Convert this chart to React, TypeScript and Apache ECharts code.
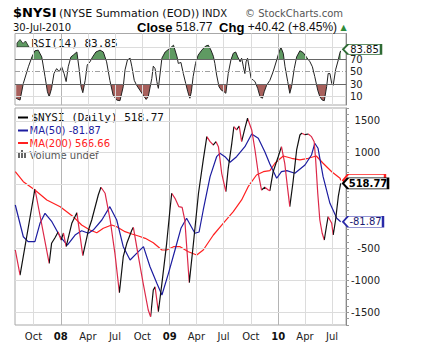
import React, { useEffect, useRef } from 'react';
import * as echarts from 'echarts';

// ---------- data ----------
const priceDates = [
  '2007-08-01','2007-08-17','2007-10-06','2007-11-23','2007-12-01','2007-12-12','2007-12-23','2008-01-02','2008-01-10','2008-01-19',
  '2008-02-07','2008-02-24','2008-03-15','2008-04-03','2008-04-14','2008-05-06','2008-05-15','2008-05-29','2008-06-15','2008-07-01',
  '2008-07-16','2008-07-29','2008-08-10','2008-08-27','2008-09-01','2008-09-18','2008-10-04','2008-10-21','2008-10-29','2008-11-07',
  '2008-11-13','2008-11-24','2008-12-06','2008-12-22','2009-01-02','2009-01-08','2009-01-19','2009-02-01','2009-02-12','2009-02-21',
  '2009-03-08','2009-03-22','2009-04-08','2009-04-24','2009-05-06','2009-05-17','2009-05-28','2009-06-06','2009-06-14','2009-06-25',
  '2009-07-09','2009-07-17','2009-07-29','2009-08-05','2009-08-14','2009-08-23','2009-08-31','2009-09-11','2009-09-20','2009-10-04',
  '2009-10-15','2009-10-26','2009-11-06','2009-11-17','2009-11-29','2009-12-04','2009-12-15','2010-01-01','2010-01-12','2010-01-23',
  '2010-02-01','2010-02-09','2010-02-20','2010-03-04','2010-03-15','2010-03-21','2010-04-01','2010-04-12','2010-04-23','2010-05-02',
  '2010-05-07','2010-05-14','2010-05-21','2010-05-29','2010-06-05','2010-06-13','2010-06-18','2010-06-30','2010-07-05','2010-07-13',
  '2010-07-22','2010-07-30',
];
const priceValues = [
  -525, -917, 431, -734, -420, -337, -243, -368, -259, -473,
  -107, 60, -614, -212, -55, 337, 458, 364, -55, -577,
  -1194, -630, -420, -212, -170, -630, -1047, -1465, -1570, -1152,
  -1100, -1492, -1047, -420, 102, 364, 285, 154, 144, -55,
  -1037, -420, 364, 886, 1251, 1172, 1121, 1172, 1094, 677,
  389, 755, 1147, 1407, 1356, 1418, 1172, 1382, 1539, 1356,
  1042, 677, 415, 458, 415, 405, 702, 937, 1094, 834,
  467, 154, 545, 1042, 1277, 1304, 1282, 1293, 1251, 1172,
  886, 364, -55, -263, -368, -133, -3, -107, -290, -55,
  310, 518.77,
];

const ma50Dates = [
  '2007-08-01','2007-08-28','2007-09-13','2007-10-06','2007-10-23','2007-11-09','2007-12-02','2007-12-30','2008-01-23','2008-02-18',
  '2008-03-11','2008-04-03','2008-04-19','2008-05-18','2008-06-14','2008-07-07','2008-07-29','2008-08-21','2008-09-12','2008-10-05',
  '2008-10-27','2008-11-19','2008-12-06','2008-12-28','2009-01-19','2009-02-08','2009-02-27','2009-03-27','2009-04-10','2009-04-24',
  '2009-05-17','2009-06-08','2009-06-19','2009-07-06','2009-07-23','2009-08-14','2009-09-11','2009-10-04','2009-10-26','2009-11-17',
  '2009-12-04','2009-12-27','2010-01-12','2010-01-30','2010-02-26','2010-04-01','2010-04-23','2010-05-04','2010-05-15','2010-06-01',
  '2010-06-24','2010-07-17','2010-07-30',
];
const ma50Values = [
  180, -317, -395, -395, -107, 50, -82, -317, -447, -290,
  -223, -263, -212, -55, 154, -55, -473, -682, -577, -473,
  -787, -1047, -1230, -890, -525, -185, -28, -263, -243, 102,
  624, 937, 990, 937, 850, 937, 1094, 1293, 1226, 1016,
  823, 599, 702, 718, 677, 807, 964, 1147, 1069, 624,
  207, -28, -81.87,
];

const ma200Dates = [
  '2007-08-01','2007-08-28','2007-10-06','2007-11-15','2007-12-30','2008-02-12','2008-03-11','2008-04-08','2008-05-01','2008-05-23',
  '2008-06-20','2008-07-07','2008-08-04','2008-08-27','2008-09-18','2008-10-11','2008-11-07','2008-12-06','2008-12-22','2009-01-14',
  '2009-02-05','2009-03-05','2009-04-02','2009-04-24','2009-05-28','2009-06-30','2009-08-03','2009-08-31','2009-09-22','2009-10-20',
  '2009-11-12','2009-12-04','2009-12-21','2010-01-18','2010-02-15','2010-03-15','2010-04-12','2010-05-09','2010-06-01','2010-06-30',
  '2010-07-28','2010-07-30',
];
const ma200Values = [
  702, 545, 415, 259, 154, -3, -133, -212, -254, -185,
  -133, -160, -238, -274, -306, -342, -411, -525, -525, -473,
  -473, -552, -603, -525, -290, -107, 75, 259, 467, 650,
  702, 718, 834, 948, 912, 886, 912, 948, 834, 702,
  599, 566.66,
];

const rsiDates = [
  '2007-08-04','2007-08-17','2007-08-28','2007-09-14','2007-09-26','2007-10-06','2007-10-17','2007-10-29','2007-11-09','2007-11-17',
  '2007-11-23','2007-12-01','2007-12-09','2007-12-18','2007-12-27','2008-01-04','2008-01-12','2008-01-19','2008-01-26','2008-02-04',
  '2008-02-12','2008-02-24','2008-03-03','2008-03-09','2008-03-15','2008-03-23','2008-03-30','2008-04-08','2008-04-17','2008-04-28',
  '2008-05-12','2008-05-23','2008-06-03','2008-06-14','2008-06-25','2008-07-07','2008-07-18','2008-07-29','2008-08-04','2008-08-12',
  '2008-08-21','2008-08-27','2008-09-04','2008-09-12','2008-09-23','2008-10-04','2008-10-14','2008-10-21','2008-11-02','2008-11-07',
  '2008-11-13','2008-11-19','2008-11-24','2008-12-06','2008-12-17','2009-01-02','2009-01-14','2009-01-26','2009-01-30','2009-02-08',
  '2009-02-16','2009-02-24','2009-03-03','2009-03-10','2009-03-15','2009-03-21','2009-03-29','2009-04-07','2009-04-19','2009-05-02',
  '2009-05-11','2009-05-20','2009-05-28','2009-06-02','2009-06-08','2009-06-16','2009-06-24','2009-07-03','2009-07-09','2009-07-17',
  '2009-07-26','2009-08-03','2009-08-11','2009-08-18','2009-08-26','2009-08-31','2009-09-06','2009-09-11','2009-09-15','2009-09-20',
  '2009-09-25','2009-10-02','2009-10-10','2009-10-15','2009-10-24','2009-11-01','2009-11-09','2009-11-15','2009-11-23','2009-12-04',
  '2009-12-15','2009-12-27','2010-01-04','2010-01-10','2010-01-18','2010-01-24','2010-02-02','2010-02-09','2010-02-15','2010-02-24',
  '2010-03-04','2010-03-15','2010-03-26','2010-04-07','2010-04-18','2010-04-26','2010-05-04','2010-05-14','2010-05-21','2010-05-29',
  '2010-06-05','2010-06-13','2010-06-18','2010-06-24','2010-06-30','2010-07-05','2010-07-13','2010-07-22','2010-07-27','2010-07-30',
];
const rsiValues = [
  6.8, 4, 31, 58, 74, 84, 85, 74, 42, 17.5,
  9.4, 23, 47, 55, 50, 58, 47, 34, 58, 74,
  77, 82, 53, 26, 16, 36, 61, 66, 74, 82,
  85, 82, 66, 36, 12, 4, 3, 26, 53, 69,
  72, 58, 36, 28, 20, 12, 5, 9.4, 39, 59,
  55, 34, 23, 72, 82, 88, 93, 74, 63.5, 65,
  47, 31, 17.5, 7, 17.5, 42, 63.5, 77, 85, 91.6,
  93, 85, 75, 63.5, 44.6, 25.6, 20, 17.5, 15, 47,
  69, 80, 82, 74, 66, 72, 58, 47, 66, 72,
  58, 39, 36, 34, 23, 9.4, 7, 17.5, 28, 36,
  50, 69, 82, 89.5, 80, 58, 34, 15, 26, 55,
  74, 84, 81, 73, 66, 58, 42, 20, 9.4, 4,
  3, 26, 47, 47, 31, 28, 53, 69, 80, 83.85,
];

const tickDates = ['2007-10-01','2008-01-01','2008-04-01','2008-07-01','2008-10-01','2009-01-01','2009-04-01','2009-07-01','2009-10-01','2010-01-01','2010-04-01','2010-07-01'];
const tickLabels = ['Oct','08','Apr','Jul','Oct','09','Apr','Jul','Oct','10','Apr','Jul'];
const priceLabelValues = [1500, 1000, -500, -1000, -1500];
const priceGridValues = [1500, 1000, 500, 0, -500, -1000, -1500];
const rsiLabelValues = [70, 50, 30, 10];

const CHANGE = 40.42;
const CHANGE_PCT = 8.45;
const DATE_TEXT = '30-Jul-2010';
const X_MIN = '2007-07-31';
const X_MAX = '2010-08-17';

// ---------- helpers ----------
const ts = (s: string) => {
  const [y, m, d] = s.split('-').map(Number);
  return Date.UTC(y, m - 1, d);
};
const pairs = (dates: string[], vals: number[]) => dates.map((d, i) => [ts(d), vals[i]]);

const FONT = '"DejaVu Sans", Verdana, sans-serif';
const ARIAL = '"Liberation Sans", Arial, sans-serif';
const MONO = '"DejaVu Sans Mono", monospace';

function clampFill(dates: string[], vals: number[], level: number, above: boolean) {
  const out: number[][] = [];
  for (let i = 0; i < vals.length; i++) {
    const t = ts(dates[i]);
    const v = vals[i];
    if (i > 0) {
      const pt = ts(dates[i - 1]);
      const pv = vals[i - 1];
      if ((pv - level) * (v - level) < 0) {
        const f = (level - pv) / (v - pv);
        out.push([pt + f * (t - pt), level]);
      }
    }
    out.push([t, above ? Math.max(v, level) : Math.min(v, level)]);
  }
  return out;
}

const tag = (value: number, border: string, textColor: string, bold: boolean, w: number, h: number, showText = true, dy = 0) => ({
  silent: true,
  symbol: `path://M0 ${h / 2}L5 0L${w} 0L${w} ${h}L5 ${h}Z`,
  symbolSize: [w, h],
  symbolKeepAspect: false,
  symbolOffset: [w / 2 - 3, dy],
  itemStyle: { color: '#fff', borderColor: border, borderWidth: 1.3 },
  label: {
    show: showText,
    position: 'inside',
    offset: [2.5, 0],
    formatter: value.toFixed(2),
    color: textColor,
    fontFamily: FONT,
    fontSize: 10,
    lineHeight: 10,
    fontWeight: bold ? 'bold' : 'normal',
  },
  data: [{ coord: [ts(X_MAX), value] }],
});

export default function App() {
  const ref = useRef<HTMLDivElement>(null);

  useEffect(() => {
    if (!ref.current) return;
    const chart = echarts.init(ref.current, null, { renderer: 'svg' });

    const last = (a: number[]) => a[a.length - 1];
    const close = last(priceValues);
    const ma50Last = last(ma50Values);
    const ma200Last = last(ma200Values);
    const rsiLast = last(rsiValues);

    const tickTs = tickDates.map(ts);
    const isYear = (s: string) => /^\d+$/.test(s);

    const vLines = tickDates.map((d, i) => ({
      xAxis: ts(d),
      lineStyle: { color: isYear(tickLabels[i]) ? '#b4b4b4' : '#dcdcdc', width: 1, type: 'solid' },
    }));

    const pieces: any[] = [];
    for (let i = 0; i < priceValues.length - 1; i++) {
      if (priceValues[i + 1] < priceValues[i]) {
        pieces.push({ gte: ts(priceDates[i]), lt: ts(priceDates[i + 1]), color: '#dc2848' });
      }
    }

    const option: any = {
      animation: false,
      backgroundColor: '#fff',
      textStyle: { fontFamily: FONT },
      grid: [
        { left: 15, right: 80, top: 33.5, height: 71.5, show: true, borderColor: '#a8a8a8', borderWidth: 1 },
        { left: 15, right: 80, top: 108, height: 217, show: true, borderColor: '#a8a8a8', borderWidth: 1 },
      ],
      xAxis: [
        {
          type: 'value', gridIndex: 0, min: ts(X_MIN), max: ts(X_MAX),
          axisLine: { show: false }, axisTick: { show: false }, axisLabel: { show: false }, splitLine: { show: false },
        },
        {
          type: 'value', gridIndex: 1, min: ts(X_MIN), max: ts(X_MAX),
          axisLine: { show: false }, axisTick: { show: false }, splitLine: { show: false },
          axisLabel: {
            show: true,
            customValues: tickTs,
            margin: 6,
            fontFamily: FONT,
            fontSize: 10,
            color: '#222',
            formatter: (v: number) => {
              const i = tickTs.findIndex((t) => Math.abs(t - v) < 3600000);
              const s = i >= 0 ? tickLabels[i] : '';
              return isYear(s) ? `{y|${s}}` : s;
            },
            rich: { y: { fontWeight: 'bold', fontSize: 10, fontFamily: FONT, color: '#111' } },
          },
        },
      ],
      yAxis: [
        {
          type: 'value', gridIndex: 0, position: 'right', min: -4, max: 112,
          axisLine: { show: true, lineStyle: { color: '#888' } },
          axisTick: { show: false }, splitLine: { show: false },
          axisLabel: {
            customValues: rsiLabelValues, margin: 4, fontFamily: FONT, fontSize: 10, lineHeight: 10, color: '#222',
            formatter: (v: number) => String(v),
          },
        },
        {
          type: 'value', gridIndex: 1, position: 'right', min: -1700, max: 1700, interval: 100,
          axisLine: { show: true, lineStyle: { color: '#888' } },
          axisTick: { show: true, length: 3, lineStyle: { color: '#999' } },
          splitLine: { show: false },
          axisLabel: {
            customValues: priceLabelValues, margin: 34, align: 'right', fontFamily: FONT, fontSize: 10, color: '#222',
            formatter: (v: number) => String(v),
          },
        },
      ],
      visualMap: [
        {
          type: 'piecewise', show: false, dimension: 0, seriesIndex: 7,
          pieces, outOfRange: { color: '#111' },
        },
      ],
      series: [
        {
          type: 'line', xAxisIndex: 1, yAxisIndex: 1, data: [], z: 1, silent: true,
          markLine: {
            silent: true, symbol: ['none', 'none'], label: { show: false },
            data: [
              ...vLines,
              ...priceGridValues.map((v) => ({ yAxis: v, lineStyle: { color: '#dcdcdc', width: 1, type: 'solid' } })),
            ],
          },
        },
        {
          type: 'line', xAxisIndex: 0, yAxisIndex: 0, data: [], z: 1, silent: true,
          markLine: {
            silent: true, symbol: ['none', 'none'], label: { show: false },
            data: [
              ...vLines,
              { yAxis: 90, lineStyle: { color: '#dcdcdc', width: 1, type: 'solid' } },
              { yAxis: 10, lineStyle: { color: '#dcdcdc', width: 1, type: 'solid' } },
              { yAxis: 50, lineStyle: { color: '#a0a0a0', width: 1, type: [5, 2, 1, 2] } },
              { yAxis: 70, lineStyle: { color: '#666', width: 1, type: 'solid' } },
              { yAxis: 30, lineStyle: { color: '#666', width: 1, type: 'solid' } },
            ],
          },
        },
        {
          type: 'line', xAxisIndex: 0, yAxisIndex: 0, silent: true, z: 2,
          data: clampFill(rsiDates, rsiValues, 70, true),
          showSymbol: false, lineStyle: { width: 0 },
          areaStyle: { color: '#5f9a62', opacity: 1, origin: 70 },
        },
        {
          type: 'line', xAxisIndex: 0, yAxisIndex: 0, silent: true, z: 2,
          data: clampFill(rsiDates, rsiValues, 30, false),
          showSymbol: false, lineStyle: { width: 0 },
          areaStyle: { color: '#a8605c', opacity: 1, origin: 30 },
        },
        {
          type: 'line', xAxisIndex: 0, yAxisIndex: 0, z: 4,
          data: pairs(rsiDates, rsiValues),
          showSymbol: false, lineStyle: { color: '#222', width: 1 },
          markPoint: tag(rsiLast, '#2f6b35', '#111', false, 38, 10, true, -1.5),
        },
        {
          type: 'line', xAxisIndex: 1, yAxisIndex: 1, z: 4,
          data: pairs(ma200Dates, ma200Values),
          showSymbol: false, lineStyle: { color: '#ff2020', width: 1.2 },
          markPoint: tag(ma200Last, '#ff2020', '#ff2020', false, 42, 12, false),
        },
        {
          type: 'line', xAxisIndex: 1, yAxisIndex: 1, z: 5,
          data: pairs(ma50Dates, ma50Values),
          showSymbol: false, lineStyle: { color: '#1c1ca0', width: 1.2 },
          markPoint: tag(ma50Last, '#2a2aa8', '#1a1a70', false, 40, 11),
        },
        {
          type: 'line', xAxisIndex: 1, yAxisIndex: 1, z: 6,
          data: pairs(priceDates, priceValues),
          showSymbol: false, lineStyle: { width: 1.2 },
          markPoint: tag(close, '#000', '#000', true, 45, 11),
        },
      ],
      graphic: [
        { type: 'text', x: 13, y: 12.6, style: { text: '$NYSI', font: `bold 13px ${FONT}`, fill: '#000', verticalAlign: 'middle' } },
        { type: 'text', x: 59, y: 13.2, style: { text: '(NYSE Summation (EOD))', font: `11px ${FONT}`, fill: '#111', verticalAlign: 'middle' } },
        { type: 'text', x: 202, y: 13.6, style: { text: 'INDX', font: `10px ${FONT}`, fill: '#111', verticalAlign: 'middle' } },
        { type: 'text', x: 245, y: 13.4, style: { text: '© StockCharts.com', font: `10px ${FONT}`, fill: '#555', verticalAlign: 'middle' } },
        { type: 'text', x: 13, y: 27.3, style: { text: DATE_TEXT, font: `10px ${FONT}`, fill: '#111', verticalAlign: 'middle' } },
        {
          type: 'text', x: 137, y: 27.3,
          style: {
            text: `{b|Close} ${close.toFixed(2)}  {b|Chg} +${CHANGE.toFixed(2)} (+${CHANGE_PCT.toFixed(2)}%) {g|▲}`,
            font: `12px ${ARIAL}`, fill: '#111', verticalAlign: 'middle',
            rich: {
              b: { font: `bold 13px ${ARIAL}`, fill: '#000' },
              g: { font: `8px ${FONT}`, fill: '#2e8b3a' },
            },
          },
        },
        // RSI legend
        {
          type: 'polygon',
          shape: { points: [[17, 47], [17, 43], [20, 39.5], [23, 43.5], [25.5, 41], [29, 47]] },
          style: { fill: '#5f9a62', stroke: '#222', lineWidth: 0.8 },
        },
        { type: 'text', x: 31.5, y: 43.3, style: { text: `RSI(14) ${rsiLast.toFixed(2)}`, font: `11px ${MONO}`, fill: '#111', verticalAlign: 'middle' } },
        // main legend
        { type: 'line', shape: { x1: 18, y1: 117.5, x2: 28, y2: 117.5 }, style: { stroke: '#000', lineWidth: 2 } },
        { type: 'text', x: 31.5, y: 117.5, style: { text: `$NYSI (Daily) ${close.toFixed(2)}`, font: `11px ${MONO}`, fill: '#111', verticalAlign: 'middle' } },
        { type: 'line', shape: { x1: 18, y1: 130.5, x2: 28, y2: 130.5 }, style: { stroke: '#1c1ca0', lineWidth: 2 } },
        { type: 'text', x: 29.5, y: 130.5, style: { text: `MA(50) ${ma50Last.toFixed(2)}`, font: `10px ${FONT}`, fill: '#1c1ca0', verticalAlign: 'middle' } },
        { type: 'line', shape: { x1: 18, y1: 143, x2: 28, y2: 143 }, style: { stroke: '#ff2020', lineWidth: 2 } },
        { type: 'text', x: 29.5, y: 143, style: { text: `MA(200) ${ma200Last.toFixed(2)}`, font: `10px ${FONT}`, fill: '#ff2020', verticalAlign: 'middle' } },
        { type: 'rect', shape: { x: 18, y: 152, width: 2, height: 6 }, style: { fill: '#666' } },
        { type: 'rect', shape: { x: 21, y: 150, width: 2, height: 8 }, style: { fill: '#666' } },
        { type: 'rect', shape: { x: 24, y: 153, width: 2, height: 5 }, style: { fill: '#666' } },
        { type: 'text', x: 29.5, y: 155, style: { text: 'Volume undef', font: `10px ${FONT}`, fill: '#555', verticalAlign: 'middle' } },
      ],
    };

    chart.setOption(option);
    return () => chart.dispose();
  }, []);

  return <div ref={ref} style={{ position: 'fixed', left: 0, top: 0, width: 426, height: 363, background: '#fff' }} />;
}
